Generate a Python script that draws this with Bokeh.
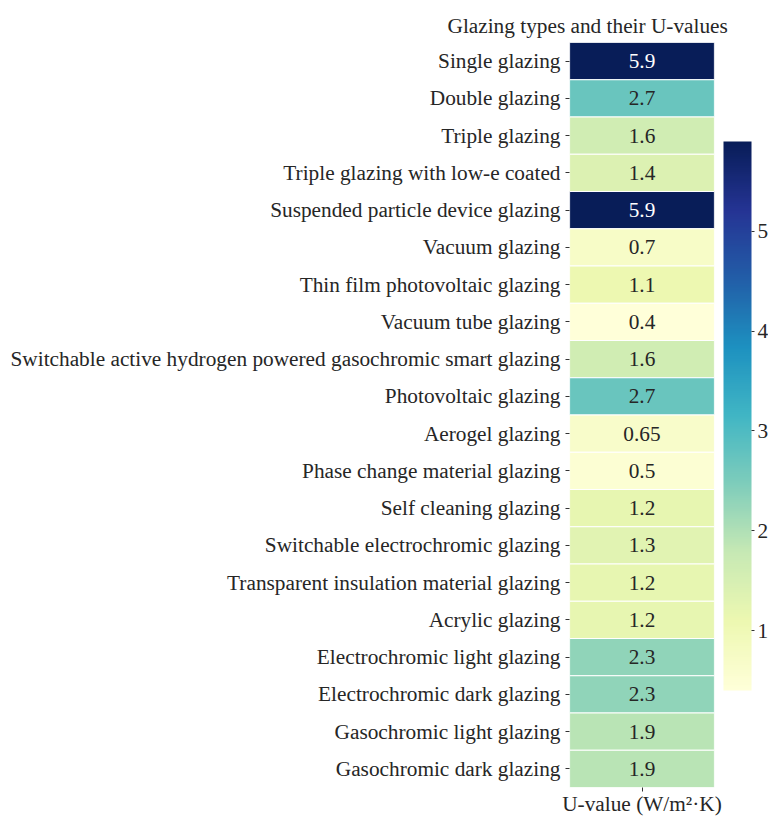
from bokeh.plotting import figure
from bokeh.models import (ColumnDataSource, LinearColorMapper, ColorBar, FixedTicker,
                          FactorRange, Range1d)
from bokeh.embed import file_html
from bokeh.resources import INLINE

glazing_types = [
    "Single glazing", "Double glazing", "Triple glazing", "Triple glazing with low-e coated",
    "Suspended particle device glazing", "Vacuum glazing", "Thin film photovoltaic glazing",
    "Vacuum tube glazing", "Switchable active hydrogen powered gasochromic smart glazing",
    "Photovoltaic glazing", "Aerogel glazing", "Phase change material glazing",
    "Self cleaning glazing", "Switchable electrochromic glazing",
    "Transparent insulation material glazing", "Acrylic glazing",
    "Electrochromic light glazing", "Electrochromic dark glazing",
    "Gasochromic light glazing", "Gasochromic dark glazing",
]
u_values = [5.9, 2.7, 1.6, 1.4, 5.9, 0.7, 1.1, 0.4, 1.6, 2.7, 0.65, 0.5, 1.2, 1.3, 1.2, 1.2,
            2.3, 2.3, 1.9, 1.9]
u_labels = ["5.9", "2.7", "1.6", "1.4", "5.9", "0.7", "1.1", "0.4", "1.6", "2.7", "0.65", "0.5",
            "1.2", "1.3", "1.2", "1.2", "2.3", "2.3", "1.9", "1.9"]
cbar_ticks = [1, 2, 3, 4, 5]

FONT = "Liberation Serif"
TXT = "#262626"
FS = "21.3px"

# YlGnBu (matplotlib-like) continuous palette
base = ['#ffffd9', '#edf8b1', '#c7e9b4', '#7fcdbb', '#41b6c4', '#1d91c0', '#225ea8', '#253494', '#081d58']
def hex2rgb(h):
    return tuple(int(h[i:i + 2], 16) for i in (1, 3, 5))
rgbs = [hex2rgb(h) for h in base]
N = 256
palette = []
for i in range(N):
    t = i / (N - 1) * (len(rgbs) - 1)
    k = min(int(t), len(rgbs) - 2)
    f = t - k
    c = tuple(round(rgbs[k][j] + (rgbs[k + 1][j] - rgbs[k][j]) * f) for j in range(3))
    palette.append("#%02x%02x%02x" % c)

vmin, vmax = min(u_values), max(u_values)

def color_for(v):
    idx = int(round((v - vmin) / (vmax - vmin) * (N - 1)))
    return palette[max(0, min(N - 1, idx))]

def lum(h):
    r, g, b = [x / 255 for x in hex2rgb(h)]
    def ch(c):
        return c / 12.92 if c <= 0.03928 else ((c + 0.055) / 1.055) ** 2.4
    return 0.2126 * ch(r) + 0.7152 * ch(g) + 0.0722 * ch(b)

fills = [color_for(v) for v in u_values]
text_colors = [TXT if lum(c) > 0.408 else "white" for c in fills]

src = ColumnDataSource(dict(x=[0] * len(glazing_types), y=glazing_types, v=u_values,
                            lab=u_labels, fill=fills, tc=text_colors))

p = figure(frame_width=145, frame_height=745, output_backend="svg", toolbar_location=None,
           x_range=Range1d(-0.5, 0.5), y_range=FactorRange(factors=glazing_types[::-1]),
           min_border_left=569, min_border_right=51, min_border_top=42, min_border_bottom=20)

p.rect(x="x", y="y", width=1, height=1, source=src, fill_color="fill",
       line_color="white", line_width=1.2)
p.text(x="x", y="y", text="lab", source=src, text_color="tc", text_align="center",
       text_baseline="middle", text_font_size=FS, text_font={"value": FONT})

mapper = LinearColorMapper(palette=palette, low=vmin, high=vmax)
cb = ColorBar(color_mapper=mapper, ticker=FixedTicker(ticks=cbar_ticks), width=28, height=549,
              location=(9, 97), padding=0, margin=0,
              major_label_text_font=FONT, major_label_text_font_size=FS,
              major_label_text_color=TXT, major_tick_in=0, major_tick_out=3,
              major_tick_line_color="#333333", label_standoff=3, bar_line_color=None,
              border_line_color=None, background_fill_color=None)
p.add_layout(cb, "right")

p.title.text = "Glazing types and their U-values"
p.title.text_font = FONT
p.title.text_font_size = FS
p.title.text_font_style = "normal"
p.title.text_color = TXT
p.title.align = "left"
p.title.offset = -122

p.xgrid.visible = False
p.ygrid.visible = False
p.outline_line_color = None

p.xaxis.ticker = FixedTicker(ticks=[0])
p.xaxis.major_label_overrides = {0: ""}
p.xaxis.axis_label = "U-value (W/m\u00b2\u00b7K)"
p.xaxis.axis_label_text_font = FONT
p.xaxis.axis_label_text_font_size = FS
p.xaxis.axis_label_text_font_style = "normal"
p.xaxis.axis_label_text_color = TXT
p.xaxis.axis_label_standoff = 0
p.xaxis.major_label_standoff = 0
p.xaxis.axis_line_color = None
p.xaxis.major_tick_line_color = "#333333"
p.xaxis.major_tick_in = 0
p.xaxis.major_tick_out = 4
p.xaxis.minor_tick_line_color = None

p.yaxis.axis_line_color = None
p.yaxis.major_tick_line_color = "#333333"
p.yaxis.major_tick_in = 0
p.yaxis.major_tick_out = 4
p.yaxis.major_label_text_font = FONT
p.yaxis.major_label_text_font_size = FS
p.yaxis.major_label_text_color = TXT
p.yaxis.major_label_standoff = 5

open("out.html", "w").write(file_html(p, INLINE))
